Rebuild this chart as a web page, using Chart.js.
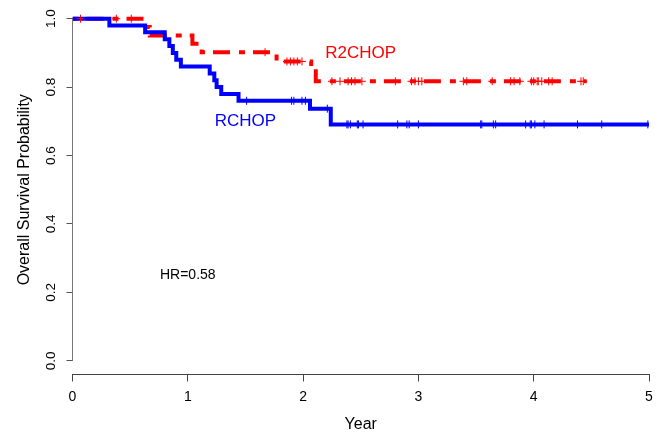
<!DOCTYPE html>
<html>
<head>
<meta charset="utf-8">
<script src="https://cdn.jsdelivr.net/npm/chart.js@4.4.1/dist/chart.umd.min.js"></script>
<style>
  html, body { margin: 0; padding: 0; background: #fff; }
  canvas { display: block; }
</style>
</head>
<body>
<canvas id="kmPlot" width="661" height="434"></canvas>
<script>
// Kaplan-Meier steps: time (years) where the estimate changes, and the new value
const rchopTimes = [0, 0.32, 0.63, 0.80, 0.84, 0.87, 0.90, 0.94, 1.19, 1.23, 1.25, 1.29, 1.44, 2.06, 2.24, 5.0];
const rchopSurv  = [1.0, 0.98, 0.96, 0.94, 0.92, 0.90, 0.88, 0.86, 0.84, 0.82, 0.80, 0.78, 0.76, 0.737, 0.691, 0.691];
const rchopCensored = [1.51, 1.90, 1.92, 1.99, 2.02, 2.21, 2.38, 2.39, 2.41, 2.47, 2.48, 2.52, 2.82, 2.90, 2.92,
  3.00, 3.54, 3.55, 3.65, 3.67, 3.93, 3.97, 3.98, 4.01, 4.09, 4.38, 4.59, 4.99];

const r2chopTimes = [0, 0.64, 0.67, 1.04, 1.12, 1.77, 2.07, 2.11, 4.46];
const r2chopSurv  = [1.0, 0.976, 0.951, 0.927, 0.902, 0.875, 0.846, 0.817, 0.817];
const r2chopCensored = [0.07, 0.38, 0.51, 1.67, 1.86, 1.89, 1.92, 1.95, 1.99, 2.25, 2.32, 2.39, 2.42, 2.45, 2.51,
  2.80, 2.94, 2.97, 3.00, 3.03, 3.39, 3.42, 3.64, 3.80, 3.83, 3.88, 3.98, 4.00, 4.03, 4.04, 4.07, 4.13, 4.16, 4.41, 4.43];

const yTicks = [0, 0.2, 0.4, 0.6, 0.8, 1.0];
const xTicks = [0, 1, 2, 3, 4, 5];

const labels = [
  { text: 'R2CHOP', x: 2.5, y: 0.9, color: '#ff0000', size: 17 },
  { text: 'RCHOP', x: 1.5, y: 0.7, color: '#0000ff', size: 17 },
  { text: 'HR=0.58', x: 1.0, y: 0.25, color: '#000000', size: 14 }
];

const FONT = '"Liberation Sans", Arial, sans-serif';

function stepPoints(times, surv) {
  return times.map((t, i) => ({ x: t, y: surv[i] }));
}

// value of the step curve at time t
function survAt(times, surv, t) {
  let s = surv[0];
  for (let i = 0; i < times.length; i++) {
    if (times[i] <= t) s = surv[i];
  }
  return s;
}

function censorPoints(times, surv, cens) {
  return cens.map(t => ({ x: t, y: survAt(times, surv, t) }));
}

// R-style bits: short y axis line, rotated y tick labels, text in the plot
const rStyle = {
  id: 'rStyle',
  afterDraw(chart) {
    const { ctx, scales: { x, y } } = chart;
    ctx.save();
    ctx.strokeStyle = '#777';
    ctx.lineWidth = 1;
    ctx.beginPath();
    ctx.moveTo(x.left, y.getPixelForValue(0));
    ctx.lineTo(x.left, y.getPixelForValue(1));
    ctx.stroke();

    ctx.fillStyle = '#000';
    ctx.font = '13.5px ' + FONT;
    ctx.textAlign = 'center';
    ctx.textBaseline = 'middle';
    yTicks.forEach(v => {
      ctx.save();
      ctx.translate(x.left - 21, y.getPixelForValue(v));
      ctx.rotate(-Math.PI / 2);
      ctx.fillText(v.toFixed(1), 0, 0);
      ctx.restore();
    });

    labels.forEach(l => {
      ctx.fillStyle = l.color;
      ctx.font = l.size + 'px ' + FONT;
      ctx.fillText(l.text, x.getPixelForValue(l.x), y.getPixelForValue(l.y));
    });
    ctx.restore();
  }
};

new Chart(document.getElementById('kmPlot'), {
  type: 'scatter',
  data: {
    datasets: [
      {
        label: 'R2CHOP censored',
        data: censorPoints(r2chopTimes, r2chopSurv, r2chopCensored),
        pointStyle: 'cross',
        pointRadius: 4,
        pointBorderWidth: 1,
        borderColor: '#ff0000',
        order: 0
      },
      {
        label: 'RCHOP censored',
        data: censorPoints(rchopTimes, rchopSurv, rchopCensored),
        pointStyle: 'cross',
        pointRadius: 4,
        pointBorderWidth: 1,
        borderColor: '#0000ff',
        order: 1
      },
      {
        label: 'RCHOP',
        data: stepPoints(rchopTimes, rchopSurv),
        showLine: true,
        stepped: 'before',
        borderColor: '#0000ff',
        borderWidth: 4,
        borderCapStyle: 'butt',
        borderJoinStyle: 'miter',
        pointRadius: 0,
        order: 2
      },
      {
        label: 'R2CHOP',
        data: stepPoints(r2chopTimes, r2chopSurv),
        showLine: true,
        stepped: 'before',
        borderColor: '#ff0000',
        borderWidth: 4,
        borderDash: [6, 8, 17, 9],
        borderCapStyle: 'butt',
        borderJoinStyle: 'miter',
        pointRadius: 0,
        order: 3
      }
    ]
  },
  options: {
    responsive: false,
    animation: false,
    devicePixelRatio: 1,
    layout: { padding: { left: 15, top: 0, right: 12, bottom: 0 } },
    plugins: {
      legend: { display: false },
      tooltip: { enabled: false }
    },
    scales: {
      x: {
        type: 'linear',
        min: 0,
        max: 5,
        afterBuildTicks: s => { s.ticks = xTicks.map(v => ({ value: v })); },
        afterFit: s => { s.height = 59.5; },
        ticks: {
          color: '#000',
          padding: 7,
          font: { family: FONT, size: 14 },
          maxRotation: 0
        },
        grid: { drawOnChartArea: false, tickLength: 7, tickColor: '#444' },
        border: { display: true, color: '#444', width: 1 },
        title: {
          display: true,
          text: 'Year',
          color: '#000',
          font: { family: FONT, size: 16 },
          padding: { top: 0, bottom: 0 }
        }
      },
      y: {
        type: 'linear',
        min: -0.04,
        max: 1.04,
        afterBuildTicks: s => { s.ticks = yTicks.map(v => ({ value: v })); },
        afterFit: s => { s.width = 57.5; },
        ticks: { display: false },
        grid: { drawOnChartArea: false, tickLength: 6, tickColor: '#555' },
        border: { display: false },
        title: {
          display: true,
          text: 'Overall Survival Probability',
          color: '#000',
          font: { family: FONT, size: 16 },
          padding: { top: 0, bottom: 0 }
        }
      }
    }
  },
  plugins: [rStyle]
});
</script>
</body>
</html>
